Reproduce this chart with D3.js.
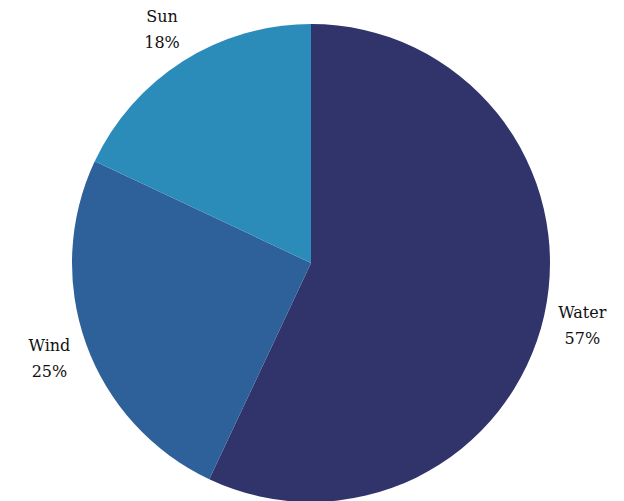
<!DOCTYPE html>
<html>
<head>
<meta charset="utf-8">
<script src="https://cdn.jsdelivr.net/npm/d3@7"></script>
<style>
  body { margin: 0; background: #fff; }
  svg text { font-family: "DejaVu Serif", serif; font-size: 16px; fill: #111; }
</style>
</head>
<body>
<div class="graph"></div>
<script>
const categories = ['Water', 'Wind', 'Sun'];
const values = [57, 25, 18];
const colors = ['#31346b', '#2e6099', '#2c8cb9'];

const width = 624, height = 501;
const cx = 311, cy = 263, radius = 239, labelRadius = 278;

const svg = d3.select('.graph').append('svg')
  .attr('width', width)
  .attr('height', height);

const g = svg.append('g')
  .attr('transform', `translate(${cx},${cy})`);

const data = categories.map((c, i) => ({ name: c, value: values[i] }));

const pie = d3.pie()
  .sort(null)
  .value(d => d.value);

const arc = d3.arc().innerRadius(0).outerRadius(radius);
const labelArc = d3.arc().innerRadius(labelRadius).outerRadius(labelRadius);

const arcs = pie(data);

g.selectAll('path.slice')
  .data(arcs)
  .join('path')
  .attr('class', 'slice')
  .attr('d', arc)
  .attr('fill', (d, i) => colors[i]);

const total = d3.sum(values);

const labels = g.selectAll('text.label')
  .data(arcs)
  .join('text')
  .attr('class', 'label')
  .attr('text-anchor', 'middle')
  .attr('transform', d => `translate(${labelArc.centroid(d)})`);

labels.append('tspan')
  .attr('x', 0)
  .attr('y', -6)
  .text(d => d.data.name);

labels.append('tspan')
  .attr('x', 0)
  .attr('y', 20)
  .text(d => Math.round(d.data.value / total * 100) + '%');
</script>
</body>
</html>
